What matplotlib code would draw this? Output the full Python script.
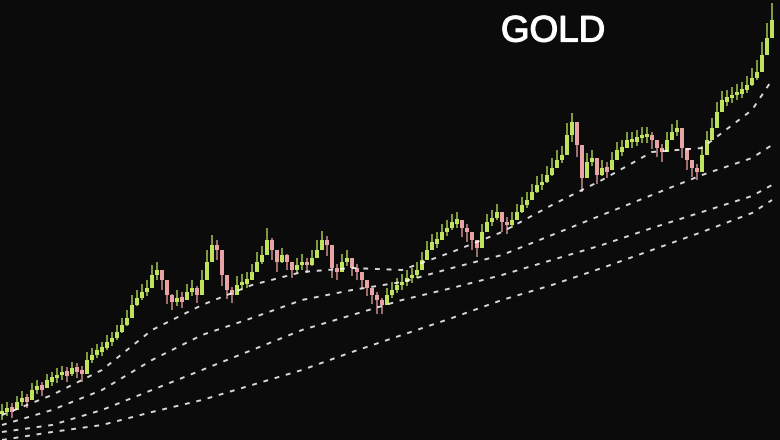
import matplotlib
matplotlib.use("Agg")
import matplotlib.pyplot as plt
import matplotlib.patheffects as pe
import numpy as np

title = "GOLD"

# closing prices (arbitrary units), one per candle
closes = [28, 32, 30, 38, 42, 40, 50, 54, 52, 60, 62, 65, 68, 66, 72, 70, 66, 80, 85, 90,
          92, 98, 102, 108, 115, 122, 135, 142, 148, 152, 165, 170, 160, 145, 138, 142, 140, 148, 152, 145,
          160, 178, 195, 190, 165, 150, 145, 155, 158, 160, 168, 178, 185, 200, 190, 178, 185, 178, 170, 175,
          178, 175, 182, 190, 200, 195, 172, 168, 178, 182, 172, 168, 160, 152, 145, 140, 135, 145, 150, 155,
          158, 162, 165, 170, 180, 190, 198, 200, 208, 212, 218, 220, 212, 208, 200, 192, 208, 218, 222, 228,
          218, 215, 220, 228, 235, 240, 248, 255, 258, 265, 272, 280, 285, 305, 318, 295, 262, 278, 282, 265,
          272, 270, 280, 290, 292, 300, 300, 302, 305, 305, 300, 292, 288, 300, 308, 312, 292, 280, 272, 268,
          285, 300, 312, 328, 340, 342, 345, 348, 350, 355, 362, 368, 385, 402, 420]

# candle highs / lows
highs = [36, 38, 37, 44, 49, 46, 57, 60, 58, 66, 68, 72, 74, 73, 78, 77, 74, 88, 92, 96,
         98, 105, 108, 115, 122, 130, 145, 150, 156, 160, 175, 178, 170, 154, 146, 150, 148, 156, 160, 154,
         170, 190, 205, 200, 178, 158, 153, 164, 166, 168, 176, 188, 194, 212, 202, 188, 192, 186, 178, 182,
         186, 182, 190, 200, 209, 204, 182, 176, 186, 190, 180, 176, 168, 160, 152, 148, 142, 152, 158, 162,
         166, 170, 172, 178, 188, 199, 206, 208, 216, 220, 226, 228, 220, 216, 208, 200, 216, 226, 230, 236,
         226, 223, 228, 236, 243, 248, 256, 264, 266, 274, 282, 290, 294, 317, 327, 304, 274, 287, 290, 274,
         280, 278, 288, 298, 300, 308, 308, 310, 313, 313, 308, 300, 296, 308, 316, 320, 302, 288, 280, 276,
         294, 309, 322, 338, 349, 350, 353, 356, 358, 364, 372, 380, 398, 417, 437]
lows = [20, 24, 22, 30, 34, 32, 42, 46, 44, 52, 54, 57, 60, 58, 64, 62, 58, 72, 77, 82,
        84, 90, 94, 100, 107, 114, 126, 134, 140, 144, 156, 160, 150, 136, 130, 134, 132, 140, 144, 137,
        150, 168, 184, 180, 154, 141, 137, 147, 150, 152, 160, 169, 176, 190, 180, 168, 177, 170, 162, 167,
        170, 167, 174, 182, 191, 184, 162, 160, 170, 174, 164, 160, 152, 144, 136, 126, 126, 137, 142, 147,
        150, 154, 157, 162, 172, 182, 190, 192, 200, 204, 210, 212, 203, 198, 190, 183, 200, 210, 214, 220,
        208, 206, 212, 220, 227, 232, 240, 247, 250, 257, 264, 272, 277, 294, 298, 283, 248, 268, 274, 256,
        264, 262, 272, 282, 284, 292, 292, 294, 297, 297, 291, 283, 278, 292, 300, 304, 282, 270, 263, 260,
        277, 292, 304, 320, 332, 334, 337, 340, 342, 347, 354, 360, 376, 393, 410]

# moving averages sampled at candle indices
ma_index = [0, 10, 20, 30, 40, 50, 60, 70, 80, 90, 100, 110, 120, 130, 140, 150, 154]
ma_fast = [25, 45, 70, 110, 135, 155, 168, 172, 170, 188, 208, 235, 260, 288, 292, 330, 360]
ma_mid = [15, 30, 50, 80, 105, 122, 140, 150, 158, 172, 185, 205, 225, 245, 265, 282, 295]
ma_slow = [8, 15, 30, 50, 70, 90, 110, 125, 140, 152, 165, 180, 195, 212, 228, 244, 255]
ma_long = [0, 8, 15, 28, 40, 55, 70, 88, 105, 122, 140, 155, 172, 190, 208, 227, 240]

bg = "#0b0b0b"
up_color = "#bfe35c"
down_color = "#e8a4a4"

fig = plt.figure(figsize=(7.8, 4.4), dpi=100, facecolor=bg)
ax = fig.add_axes([0, 0, 1, 1], facecolor=bg)

opens = [closes[0]] + closes[:-1]
for i, (o, c, h, l) in enumerate(zip(opens, closes, highs, lows)):
    col = up_color if c >= o else down_color
    ax.vlines(i, l, h, color=col, linewidth=1.1, alpha=0.85, zorder=2)
    lo, hi = min(o, c), max(o, c)
    if hi - lo < 3:
        lo, hi = lo - 1.5, hi + 1.5
    ax.bar(i, hi - lo, bottom=lo, width=0.75, color=col, edgecolor="none", zorder=3)

for ma in (ma_fast, ma_mid, ma_slow, ma_long):
    ax.plot(ma_index, ma, color="white", linewidth=1.4, linestyle=(0, (2.5, 3.5)),
            alpha=0.85, zorder=4)

ax.set_xlim(-0.4, 155.6)
ax.set_ylim(0, 440)
ax.axis("off")

fig.text(553 / 780, 1 - 32 / 440, title, color="white", fontsize=26.5,
         family=["Liberation Sans", "DejaVu Sans"], ha="center", va="center",
         path_effects=[pe.withStroke(linewidth=0.9, foreground="white")])

fig.savefig("out.png", dpi=100, facecolor=bg)
